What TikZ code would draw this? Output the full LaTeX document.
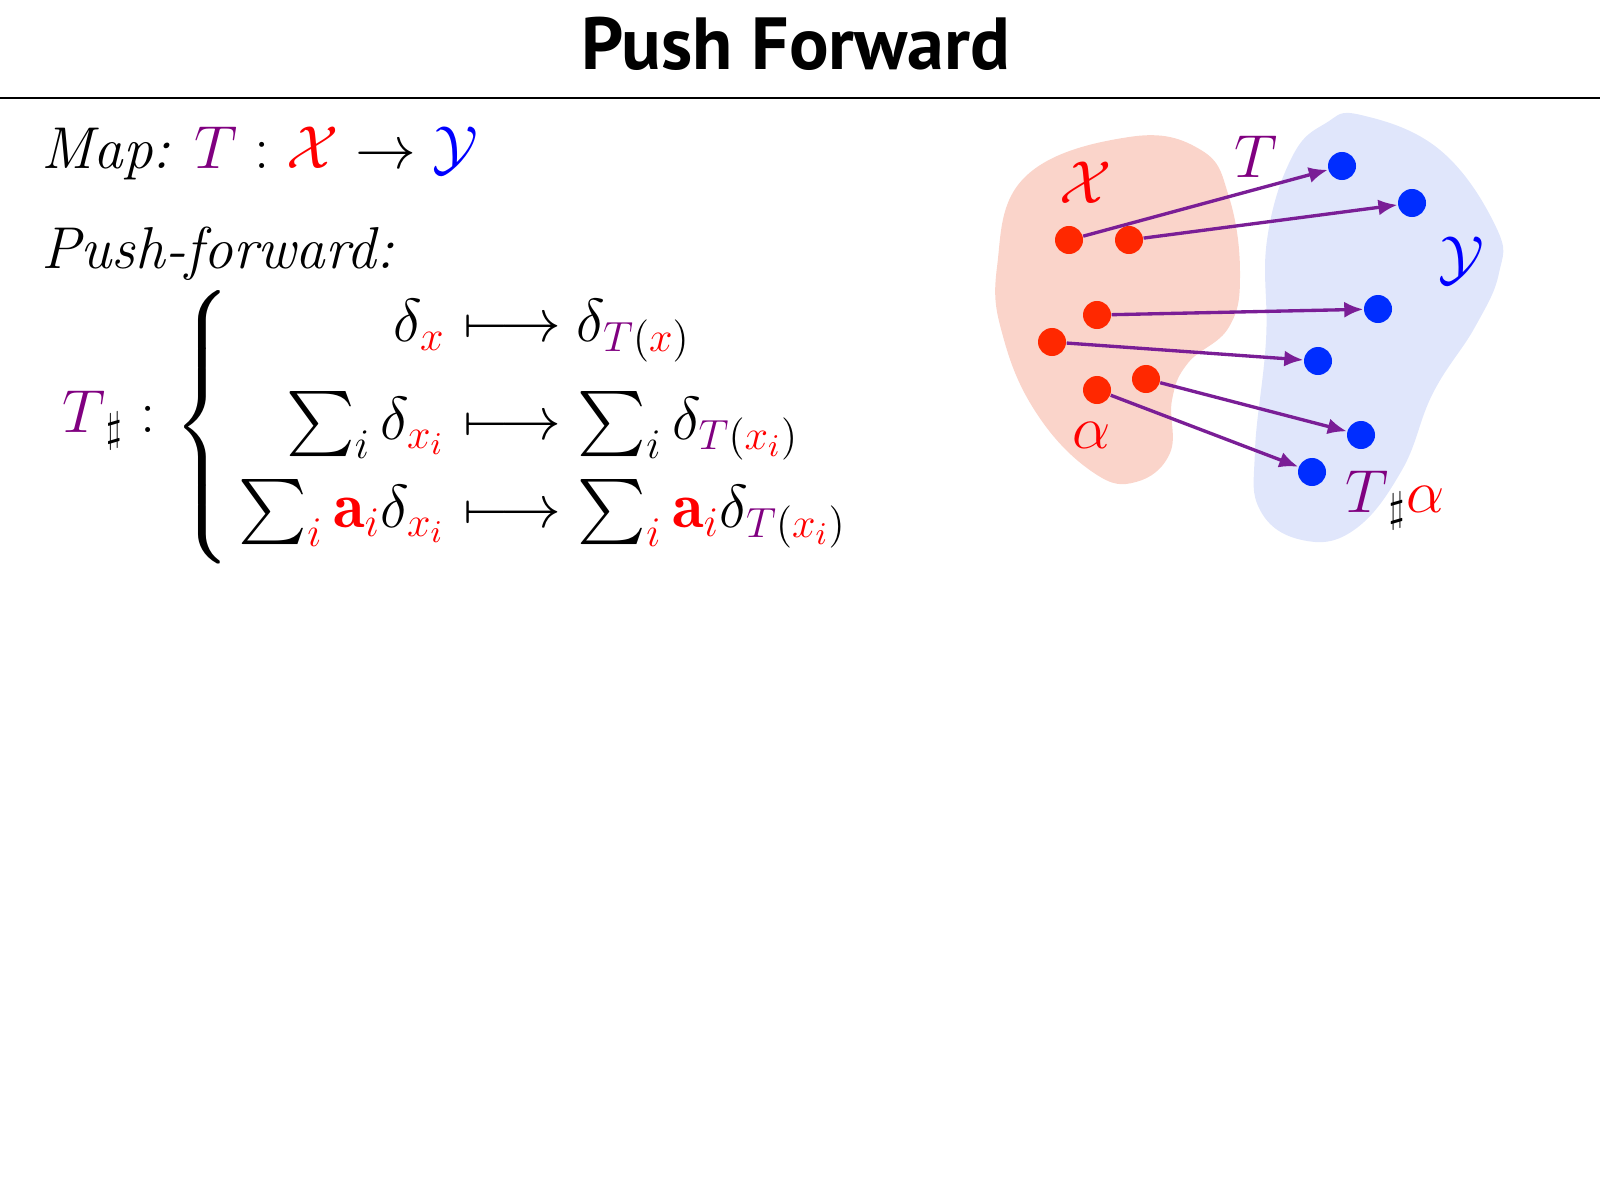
\documentclass[tikz,border=0pt]{standalone}
\usepackage{amsmath,amssymb}
\usepackage{fontspec}
\newfontfamily\titlefont{PT Sans}
\usepackage{tikz}
\usetikzlibrary{arrows.meta}
\definecolor{tpurple}{RGB}{128,0,128}
\definecolor{arrpurple}{RGB}{122,30,150}
\definecolor{dotred}{RGB}{255,40,0}
\definecolor{dotblue}{RGB}{0,45,255}
\definecolor{blobred}{RGB}{250,212,202}
\definecolor{blobblue}{RGB}{224,230,251}
\newcommand{\slidesize}{\fontsize{16.8}{20.2}\selectfont}
\newcommand{\eqsize}{\fontsize{18.5}{22}\selectfont}
\newcommand{\Tp}{{\color{tpurple}T}}
\newcommand{\xr}{{\color{red}x}}
\newcommand{\xir}{{\color{red}x_i}}
\newcommand{\air}{{\color{red}\mathbf{a}_i}}

\begin{document}
\begin{tikzpicture}[x=0.01cm,y=-0.01cm,
    reddot/.style={circle,fill=dotred,inner sep=0pt,minimum size=2.8mm},
    bluedot/.style={circle,fill=dotblue,inner sep=0pt,minimum size=2.8mm},
    pusharrow/.style={draw=arrpurple,line width=0.95pt,-{Latex[length=1.9mm,width=1.6mm]}},
    mathlabel/.style={inner sep=0pt,font=\slidesize},
    eqpart/.style={inner sep=0pt,font=\eqsize}]
  \useasboundingbox (0,0) rectangle (1600,1200);
  % slide head: title and rule
  \node[anchor=base,inner sep=0pt,font=\titlefont\bfseries\fontsize{21}{25}\selectfont] (title) at (796,69) {Push Forward};
  \draw[line width=0.6pt] (0,98) -- (1600,98);
  % left column: the map and the push-forward of diracs
  \node[mathlabel,anchor=base west] (map) at (41,168) {\textit{Map:} $\Tp : {\color{red}\mathcal{X}} \to {\color{blue}\mathcal{Y}}$};
  \node[mathlabel,anchor=base west] (pfw) at (41,268) {\textit{Push-forward:}};
  \node[eqpart,anchor=base west] (tsharp) at (62,432) {$\Tp_{\sharp} :$};
  \node[eqpart] (brace) at (205,427) {$\left\{\vrule height 34pt depth 34pt width 0pt\right.$};
  \node[eqpart,anchor=base east] (lhsa) at (446,341) {$\delta_{\xr}$};
  \node[eqpart,anchor=base east] (lhsb) at (446,439) {$\sum_i \delta_{\xir}$};
  \node[eqpart,anchor=base east] (lhsc) at (446,527) {$\sum_{\color{red}i} \air\delta_{\xir}$};
  \foreach \r/\py in {a/341,b/439,c/527}
    \node[inner sep=0pt,font=\fontsize{17.4}{21}\selectfont,anchor=base] (maps\r) at (512,\py) {$\longmapsto$};
  \node[eqpart,anchor=base west] (rhsa) at (576,341) {$\delta_{\Tp(\xr)}$};
  \node[eqpart,anchor=base west] (rhsb) at (577,439) {$\sum_i \delta_{\Tp(\xir)}$};
  \node[eqpart,anchor=base west] (rhsc) at (577,527) {$\sum_{\color{red}i} \air\delta_{\Tp(\xir)}$};
  % right column: the two spaces, points of alpha and their images
  \fill[blobred] plot[smooth cycle,tension=0.7] coordinates {(997,267) (1025,177) (1129,137) (1201,150) (1229,197) (1240,273)
    (1229,327) (1188,363) (1172,400) (1170,453) (1136,482) (1094,473) (1039,417) (1004,340)};
  \fill[blobblue] plot[smooth cycle,tension=0.7] coordinates {(1361,115) (1440,150) (1496,227) (1499,273) (1475,327) (1433,393)
    (1402,470) (1354,530) (1302,540) (1260,510) (1255,450) (1266,340) (1267,240) (1292,157) (1326,123)};
  \foreach \n/\px/\py in {1/1069/240,2/1129/240,3/1097/315,4/1052/342,5/1146/379,6/1097/390}
    \node[reddot] (r\n) at (\px,\py) {};
  \foreach \n/\px/\py in {1/1342/166,2/1412/203,3/1378/309,4/1318/361,5/1361/435,6/1312/472}
    \node[bluedot] (b\n) at (\px,\py) {};
  \foreach \n in {1,...,6}
    \draw[pusharrow] (r\n) -- (b\n);
  \node[mathlabel] (xlab) at (1086,183) {${\color{red}\mathcal{X}}$};
  \node[mathlabel] (tlab) at (1256,157) {$\Tp$};
  \node[mathlabel] (ylab) at (1461,261) {${\color{blue}\mathcal{Y}}$};
  \node[mathlabel] (alab) at (1092,435) {${\color{red}\alpha}$};
  \node[mathlabel] (talab) at (1395,500) {$\Tp_{\sharp}{\color{red}\alpha}$};
\end{tikzpicture}
\end{document}
